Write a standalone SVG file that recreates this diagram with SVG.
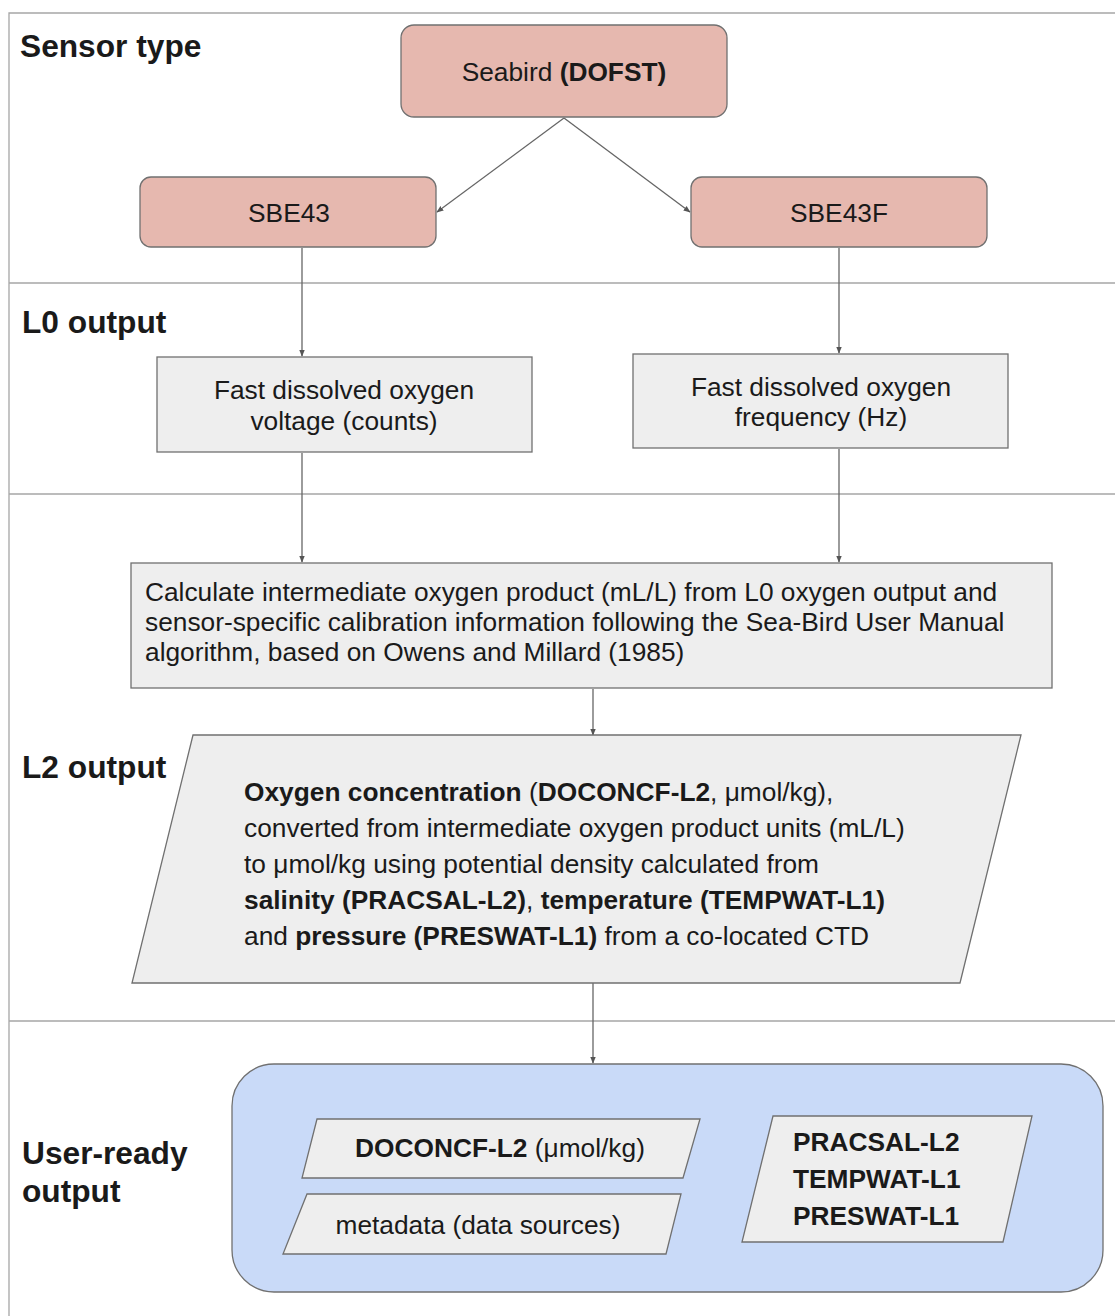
<svg xmlns="http://www.w3.org/2000/svg" width="1115" height="1316" viewBox="0 0 1115 1316">
<style>
  text { font-family: "Liberation Sans", Arial, sans-serif; fill: #1a1a1a; }
  .lbl { font-size: 31.7px; font-weight: bold; }
  .t { font-size: 26.3px; }
  .b { font-weight: bold; }
  .mid { text-anchor: middle; }
  .sensor { fill: #e6b8af; stroke: #707070; stroke-width: 1.3; }
  .grey { fill: #eeeeee; stroke: #707070; stroke-width: 1.3; }
  .blue { fill: #c9daf8; stroke: #707070; stroke-width: 1.3; }
  .div { stroke: #a6a6a6; stroke-width: 1.3; fill: none; }
  .conn { stroke: #666666; stroke-width: 1.3; fill: none; marker-end: url(#arr); }
</style>
<defs>
  <marker id="arr" viewBox="0 0 10 10" refX="9" refY="5" markerWidth="7" markerHeight="7" markerUnits="userSpaceOnUse" orient="auto">
    <path d="M0,1 L10,5 L0,9 z" fill="#555555"/>
  </marker>
</defs>
<rect width="1115" height="1316" fill="#ffffff"/>

<g id="frame">
  <path class="div" d="M9,1316 L9,13 L1115,13"/>
  <line class="div" x1="9" y1="283" x2="1115" y2="283"/>
  <line class="div" x1="9" y1="494" x2="1115" y2="494" stroke-width="2.2"/>
  <line class="div" x1="9" y1="1021" x2="1115" y2="1021"/>
</g>

<g id="section-labels">
  <text class="lbl" x="20" y="57">Sensor type</text>
  <text class="lbl" x="22" y="333">L0 output</text>
  <text class="lbl" x="22" y="778">L2 output</text>
  <text class="lbl" x="22" y="1164">User-ready</text>
  <text class="lbl" x="22" y="1202">output</text>
</g>

<g id="connectors">
  <line class="conn" x1="564" y1="118" x2="437" y2="212"/>
  <line class="conn" x1="564" y1="118" x2="690" y2="212"/>
  <line class="conn" x1="302" y1="248" x2="302" y2="356"/>
  <line class="conn" x1="839" y1="248" x2="839" y2="353"/>
  <line class="conn" x1="302" y1="453" x2="302" y2="562"/>
  <line class="conn" x1="839" y1="449" x2="839" y2="562"/>
  <line class="conn" x1="593" y1="689" x2="593" y2="735"/>
  <line class="conn" x1="593" y1="983" x2="593" y2="1063"/>
</g>

<g id="node-seabird">
  <rect class="sensor" x="401" y="25" width="326" height="92" rx="13"/>
  <text class="t mid" x="564" y="81">Seabird <tspan class="b">(DOFST)</tspan></text>
</g>
<g id="node-sbe43">
  <rect class="sensor" x="140" y="177" width="296" height="70" rx="11"/>
  <text class="t mid" x="289" y="222">SBE43</text>
</g>
<g id="node-sbe43f">
  <rect class="sensor" x="691" y="177" width="296" height="70" rx="11"/>
  <text class="t mid" x="839" y="222">SBE43F</text>
</g>

<g id="node-l0-voltage">
  <rect class="grey" x="157" y="357" width="375" height="95"/>
  <text class="t mid" x="344" y="399">Fast dissolved oxygen</text>
  <text class="t mid" x="344" y="430">voltage (counts)</text>
</g>
<g id="node-l0-frequency">
  <rect class="grey" x="633" y="354" width="375" height="94"/>
  <text class="t mid" x="821" y="396">Fast dissolved oxygen</text>
  <text class="t mid" x="821" y="426">frequency (Hz)</text>
</g>

<g id="node-calc">
  <rect class="grey" x="131" y="563" width="921" height="125"/>
  <text class="t" x="145" y="601">Calculate intermediate oxygen product (mL/L) from L0 oxygen output and</text>
  <text class="t" x="145" y="631">sensor-specific calibration information following the Sea-Bird User Manual</text>
  <text class="t" x="145" y="661">algorithm, based on Owens and Millard (1985)</text>
</g>

<g id="node-l2">
  <polygon class="grey" points="193,735 1021,735 960,983 132,983"/>
  <text class="t" x="244" y="801"><tspan class="b">Oxygen concentration</tspan> (<tspan class="b">DOCONCF-L2</tspan>, μmol/kg),</text>
  <text class="t" x="244" y="837">converted from intermediate oxygen product units (mL/L)</text>
  <text class="t" x="244" y="873">to μmol/kg using potential density calculated from</text>
  <text class="t" x="244" y="909"><tspan class="b">salinity (PRACSAL-L2)</tspan>, <tspan class="b">temperature (TEMPWAT-L1)</tspan></text>
  <text class="t" x="244" y="945">and <tspan class="b">pressure (PRESWAT-L1)</tspan> from a co-located CTD</text>
</g>

<g id="node-user-ready">
  <rect class="blue" x="232" y="1064" width="871" height="228" rx="42"/>
</g>
<g id="node-doconcf">
  <polygon class="grey" points="317,1119 700,1119 683,1178 302,1178"/>
  <text class="t mid" x="500" y="1157"><tspan class="b">DOCONCF-L2</tspan> (μmol/kg)</text>
</g>
<g id="node-metadata">
  <polygon class="grey" points="307,1194 681,1194 666,1254 283,1254"/>
  <text class="t mid" x="478" y="1234">metadata (data sources)</text>
</g>
<g id="node-ctd-vars">
  <polygon class="grey" points="773,1116 1032,1116 1003,1242 742,1242"/>
  <text class="t b" x="793" y="1151">PRACSAL-L2</text>
  <text class="t b" x="793" y="1188">TEMPWAT-L1</text>
  <text class="t b" x="793" y="1225">PRESWAT-L1</text>
</g>
</svg>
